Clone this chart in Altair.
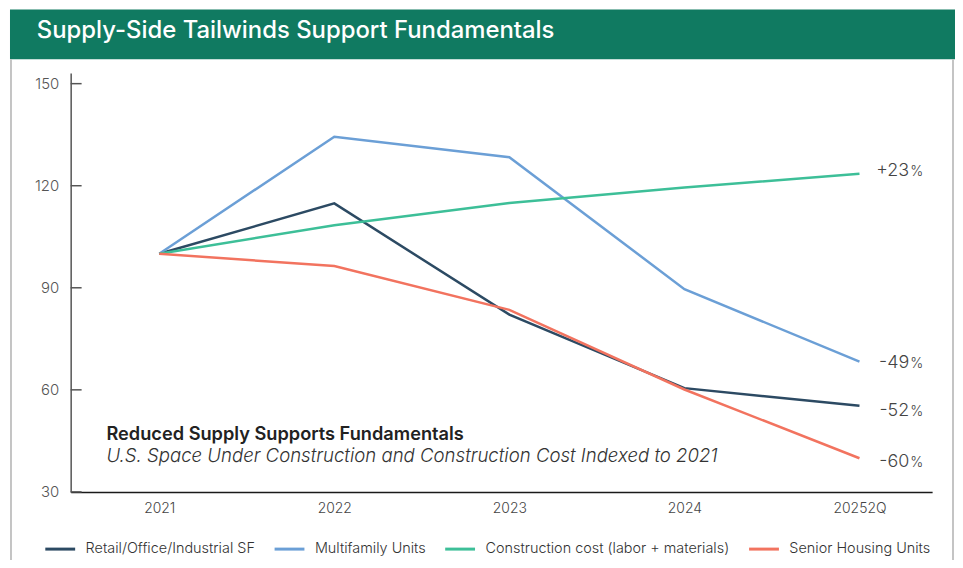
import json
import altair as alt
import pandas as pd

# ---------------- data ----------------
periods = ["2021", "2022", "2023", "2024", "20252Q"]
series_names = [
    "Retail/Office/Industrial SF",
    "Multifamily Units",
    "Construction cost (labor + materials)",
    "Senior Housing Units",
]
retail = [100, 114.8, 82.1, 60.5, 55.3]
multifamily = [100, 134.4, 128.4, 89.6, 68.3]
construction = [100, 108.4, 114.9, 119.5, 123.5]
senior = [100, 96.4, 83.5, 60.1, 39.9]
end_labels = ["-52", "-49", "+23", "-60"]
y_ticks = [30, 60, 90, 120, 150]
title_text = "Supply-Side Tailwinds Support Fundamentals"
note_title = "Reduced Supply Supports Fundamentals"
note_sub = "U.S. Space Under Construction and Construction Cost Indexed to 2021"

# ---------------- styles ----------------
colors = ["#2c4a63", "#6b9fd6", "#3dbf98", "#f2735f"]
label_dy = {"-52": 10, "-49": 6, "+23": 2, "-60": 9}
FONT = "Inter"

rows = []
for name, vals in zip(series_names, [retail, multifamily, construction, senior]):
    for i, (p, v) in enumerate(zip(periods, vals)):
        rows.append({"series": name, "idx": i, "period": p, "value": v})
df = pd.DataFrame(rows)

end_df = pd.DataFrame({
    "series": series_names,
    "idx": [len(periods) - 1] * 4,
    "value": [retail[-1], multifamily[-1], construction[-1], senior[-1]],
    "label": end_labels,
})

x_scale = alt.Scale(domain=[-0.506, 4.415], nice=False, zero=False)
y_scale = alt.Scale(domain=[30, 153.1], nice=False, zero=False)
color_scale = alt.Scale(domain=series_names, range=colors)
label_expr = json.dumps(periods) + "[datum.value]"

x_axis = alt.Axis(values=list(range(len(periods))), labelExpr=label_expr, title=None,
                  grid=False, ticks=False, domainColor="#1a1a1a", domainWidth=1.5,
                  labelColor="#444", labelFontSize=14, labelPadding=10,
                  labelFont=FONT, labelFontWeight=300)
y_axis = alt.Axis(values=y_ticks, title=None, grid=False, ticks=False,
                  domainColor="#555", domainWidth=1.5, labelColor="#555",
                  labelFontSize=15, labelPadding=12, labelFont=FONT,
                  labelFontWeight=300)

lines = alt.Chart(df).mark_line(strokeWidth=2.5).encode(
    x=alt.X("idx:Q", scale=x_scale, axis=x_axis),
    y=alt.Y("value:Q", scale=y_scale, axis=y_axis),
    color=alt.Color(
        "series:N", scale=color_scale, sort=series_names,
        legend=alt.Legend(title=None, orient="none", legendX=-27, legendY=462,
                          direction="horizontal", symbolType="stroke", symbolSize=900,
                          symbolStrokeWidth=3, labelFontSize=14.5, labelFont=FONT,
                          labelFontWeight=300, labelColor="#333", labelOffset=9,
                          labelLimit=400, columnPadding=12.5, padding=0),
    ),
)

tick_rules = alt.Chart(pd.DataFrame({"value": y_ticks})).mark_rule(
    color="#555", strokeWidth=1.5
).encode(
    y=alt.Y("value:Q", scale=y_scale, axis=y_axis),
    x=alt.value(0), x2=alt.value(11),
)

label_layers = []
for lab in end_labels:
    sub = end_df[end_df["label"] == lab]
    base = alt.Chart(sub).encode(
        x=alt.X("idx:Q", scale=x_scale, axis=x_axis),
        y=alt.Y("value:Q", scale=y_scale, axis=y_axis),
    )
    label_layers.append(base.mark_text(
        align="right", baseline="alphabetic", dx=50, dy=label_dy[lab],
        fontSize=18, font=FONT, fontWeight=300, color="#444"
    ).encode(text="label:N"))
    label_layers.append(base.mark_text(
        align="left", baseline="alphabetic", dx=51, dy=label_dy[lab],
        fontSize=14, font=FONT, fontWeight=300, color="#444"
    ).encode(text=alt.value("%")))

one = pd.DataFrame({"a": [0]})
header = alt.Chart(one).mark_rect(color="#107a61").encode(
    x=alt.value(-61), x2=alt.value(889), y=alt.value(-64), y2=alt.value(-14)
)
border_l = alt.Chart(one).mark_rule(color="#c4c4c4", strokeWidth=2).encode(
    x=alt.value(-60), y=alt.value(-14), y2=alt.value(500)
)
border_r = alt.Chart(one).mark_rule(color="#c4c4c4", strokeWidth=2).encode(
    x=alt.value(887), y=alt.value(-14), y2=alt.value(500)
)
title = alt.Chart(pd.DataFrame({"t": [title_text]})).mark_text(
    align="left", baseline="alphabetic", fontSize=24, font=FONT, fontWeight=500,
    color="white"
).encode(x=alt.value(-34), y=alt.value(-35), text="t:N")

note1 = alt.Chart(pd.DataFrame({"t": [note_title]})).mark_text(
    align="left", baseline="alphabetic", fontSize=18.3, font=FONT, fontWeight=600,
    color="#222"
).encode(x=alt.value(36), y=alt.value(369), text="t:N")
note2 = alt.Chart(pd.DataFrame({"t": [note_sub]})).mark_text(
    align="left", baseline="alphabetic", fontSize=18.7, font=FONT, fontStyle="italic",
    fontWeight=300, color="#333"
).encode(x=alt.value(36), y=alt.value(391), text="t:N")

chart = alt.layer(
    header, border_l, border_r, title, tick_rules, lines, *label_layers, note1, note2
).properties(
    width=866, height=421,
    autosize=alt.AutoSizeParams(type="none"),
    padding={"left": 63, "top": 64, "right": 23, "bottom": 67},
    background="white",
).configure_view(stroke=None)

chart.save("out.html", embed_options={"renderer": "svg", "actions": False})
